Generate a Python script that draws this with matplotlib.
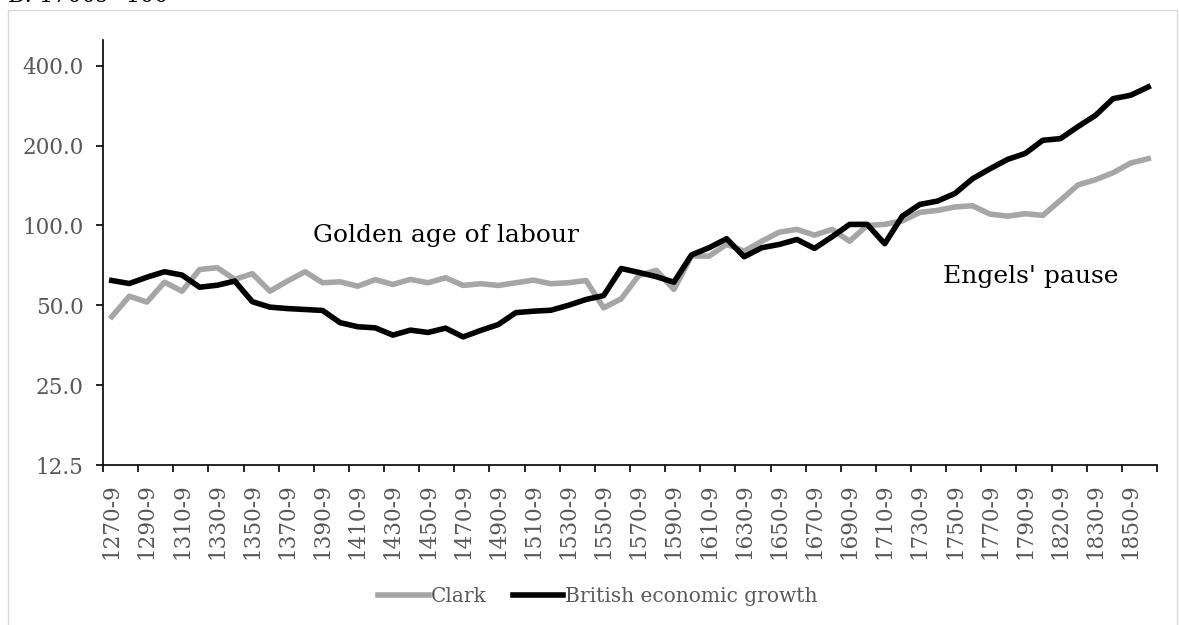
import numpy as np
import matplotlib
matplotlib.use("Agg")
import matplotlib.pyplot as plt
from matplotlib.patches import Rectangle
from matplotlib.ticker import FixedLocator, FixedFormatter, NullFormatter

# -----------------------------
# DATA (1700s = 100)
# -----------------------------
decades = [f"{y}-9" for y in range(1270, 1800, 10)] + \
    ["1800-9", "1820-9", "1825-9", "1830-9", "1840-9", "1850-9", "1860-9"]

clark = [45.3, 54.1, 51.4, 61.1, 56.5, 68.2, 69.3, 62.6, 65.8, 56.5,
         61.7, 66.9, 60.8, 61.3, 59.0, 62.5, 59.9, 62.6, 60.8, 63.5,
         59.4, 60.3, 59.4, 60.8, 62.2, 60.3, 60.8, 62.0, 48.9, 52.9,
         64.8, 67.7, 57.4, 76.7, 76.6, 84.8, 80.0, 87.2, 94.3, 96.6,
         91.9, 96.6, 87.2, 100.0, 100.9, 104.0, 112.0, 113.9, 117.4, 118.6,
         110.3, 108.4, 110.7, 109.1, 124.3, 142.1, 148.7, 158.0, 171.8, 178.5]

beg = [62.0, 60.4, 63.8, 66.9, 65.0, 58.5, 59.5, 61.7, 51.6, 49.2,
       48.6, 48.2, 47.8, 43.0, 41.5, 41.1, 38.6, 40.3, 39.5, 41.0,
       38.0, 40.2, 42.3, 46.9, 47.5, 47.9, 50.0, 52.6, 54.4, 68.8,
       66.5, 64.1, 61.1, 77.4, 82.4, 89.1, 76.2, 82.4, 84.8, 88.5,
       81.9, 90.6, 100.9, 100.9, 85.3, 108.4, 120.0, 123.5, 132.0, 150.0,
       163.6, 177.4, 186.8, 209.4, 212.4, 235.7, 260.0, 300.5, 309.5, 332.6]

yticks = [12.5, 25, 50, 100, 200, 400]

# -----------------------------
# PLOT
# -----------------------------
W, H = 1179, 625
fig = plt.figure(figsize=(W / 100, H / 100), dpi=100)
plt.rcParams['font.family'] = ['DejaVu Serif']

# outer chart border
fig.patches.append(Rectangle((8 / W, -0.05), (W - 10) / W, 1.05 - 10 / H,
                             transform=fig.transFigure, fill=False,
                             edgecolor='#d9d9d9', linewidth=1.0))

# panel title, cut off at the top edge as in the source
fig.text(8 / W, 1 - 2 / H, "B: 1700s=100", fontsize=16, va='baseline', ha='left')

ax = fig.add_axes([103 / W, (H - 465) / H, (1157 - 103) / W, (465 - 40) / H])

x = np.arange(len(decades))
ax.plot(x, clark, color='#a6a6a6', lw=4.0, solid_joinstyle='round', label='Clark')
ax.plot(x, beg, color='black', lw=4.0, solid_joinstyle='round',
        label='British economic growth')

ax.set_yscale('log', base=2)
ax.set_ylim(12.5, 500)
ax.yaxis.set_major_locator(FixedLocator(yticks))
ax.yaxis.set_major_formatter(FixedFormatter([f"{v:.1f}" for v in yticks]))
ax.yaxis.set_minor_formatter(NullFormatter())
ax.yaxis.set_minor_locator(FixedLocator([]))

ax.set_xlim(-0.5, len(decades) - 0.5)
ax.xaxis.set_major_locator(FixedLocator(np.arange(-0.5, len(decades), 2)))
ax.xaxis.set_major_formatter(NullFormatter())
ax.xaxis.set_minor_locator(FixedLocator(x[::2]))
ax.xaxis.set_minor_formatter(FixedFormatter(decades[::2]))

ax.tick_params(axis='y', which='major', direction='out', length=5, width=1.2,
               labelsize=15.5, labelcolor='#595959', pad=9)
ax.tick_params(axis='x', which='major', direction='out', length=5, width=1.2)
ax.tick_params(axis='x', which='minor', length=0, labelsize=15.5,
               labelcolor='#595959', labelrotation=90, pad=13)

for s in ['top', 'right']:
    ax.spines[s].set_visible(False)
ax.spines['left'].set_linewidth(1.2)
ax.spines['bottom'].set_linewidth(1.2)

ax.text(19, 92, "Golden age of labour", fontsize=18, ha='center', va='center')
ax.text(52.3, 64, "Engels' pause", fontsize=18, ha='center', va='center')

leg = ax.legend(loc='center', bbox_to_anchor=(598 / W, (H - 597) / H),
                bbox_transform=fig.transFigure, ncol=2, frameon=False,
                fontsize=14.5, handlelength=2.5, handletextpad=0.1,
                columnspacing=1.3)
for t in leg.get_texts():
    t.set_color('#595959')

fig.savefig("out.png", dpi=100)
